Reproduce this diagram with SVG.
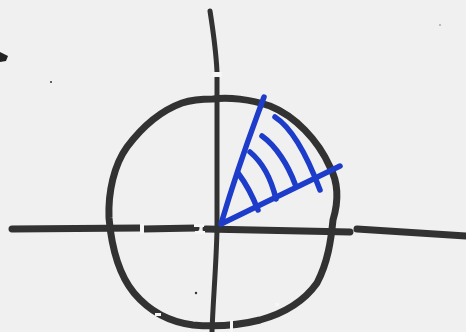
<svg xmlns="http://www.w3.org/2000/svg" width="466" height="332" viewBox="0 0 466 332">
<style>
.ink{fill:none;stroke:#333232;stroke-linecap:round;stroke-linejoin:round}
.blue{fill:none;stroke:#1c3cc9;stroke-width:5.5;stroke-linecap:round;stroke-linejoin:round}
.gap{fill:#f6f6f6}
</style>
<rect width="466" height="332" fill="#f0f0f0"/>
<g id="axes">
<path class="ink" stroke-width="5" d="M210,11 C213,30 216,50 217,72 L217,230 C216,270 213,300 212,332"/>
<path class="ink" stroke-width="7" d="M12,229 L140,228 M143,229 L196,228 M206,229 L350,232 M357,229 L466,236"/>
</g>
<g id="circle">
<path class="ink" stroke-width="7" d="M213,99 C228,97 250,99 270,106 C295,116 318,140 330,167 C338,182 339,200 333,220 C331,240 328,262 317,283 C305,300 285,313 260,320 C240,325 215,327 193,325 C170,322 150,312 134,293 C120,276 112,252 109,218 C108,192 114,165 127,147 C142,127 160,111 182,103 C194,99 205,99 213,99 Z"/>
</g>
<g id="sector">
<path class="blue" d="M264,97 C252,130 240,160 221,224 L340,166"/>
<path class="blue" d="M238,173 C247,185 253,197 258,210"/>
<path class="blue" d="M250,152 C262,162 271,178 276,199"/>
<path class="blue" d="M262,136 C276,146 288,165 295,184"/>
<path class="blue" d="M275,117 C292,128 308,158 320,190"/>
</g>
<g id="gaps">
<rect class="gap" x="212" y="72" width="10" height="5"/>
<rect class="gap" x="140" y="224" width="4" height="10"/>
<rect class="gap" x="194" y="224" width="10" height="3"/>
<rect class="gap" x="195" y="231" width="10" height="3"/>
<rect class="gap" x="155" y="313" width="6" height="3"/>
<rect class="gap" x="230" y="320" width="3" height="12"/>
<rect class="gap" x="275" y="303" width="4" height="3"/>
</g>
<g id="marks">
<path fill="#222" d="M0,52 L8,56 L6,61 L0,62 Z"/>
<circle cx="51" cy="82" r="1" fill="#333"/>
<circle cx="196" cy="293" r="1.2" fill="#333"/>
<circle cx="440" cy="25" r="0.8" fill="#777"/>
</g>
</svg>
